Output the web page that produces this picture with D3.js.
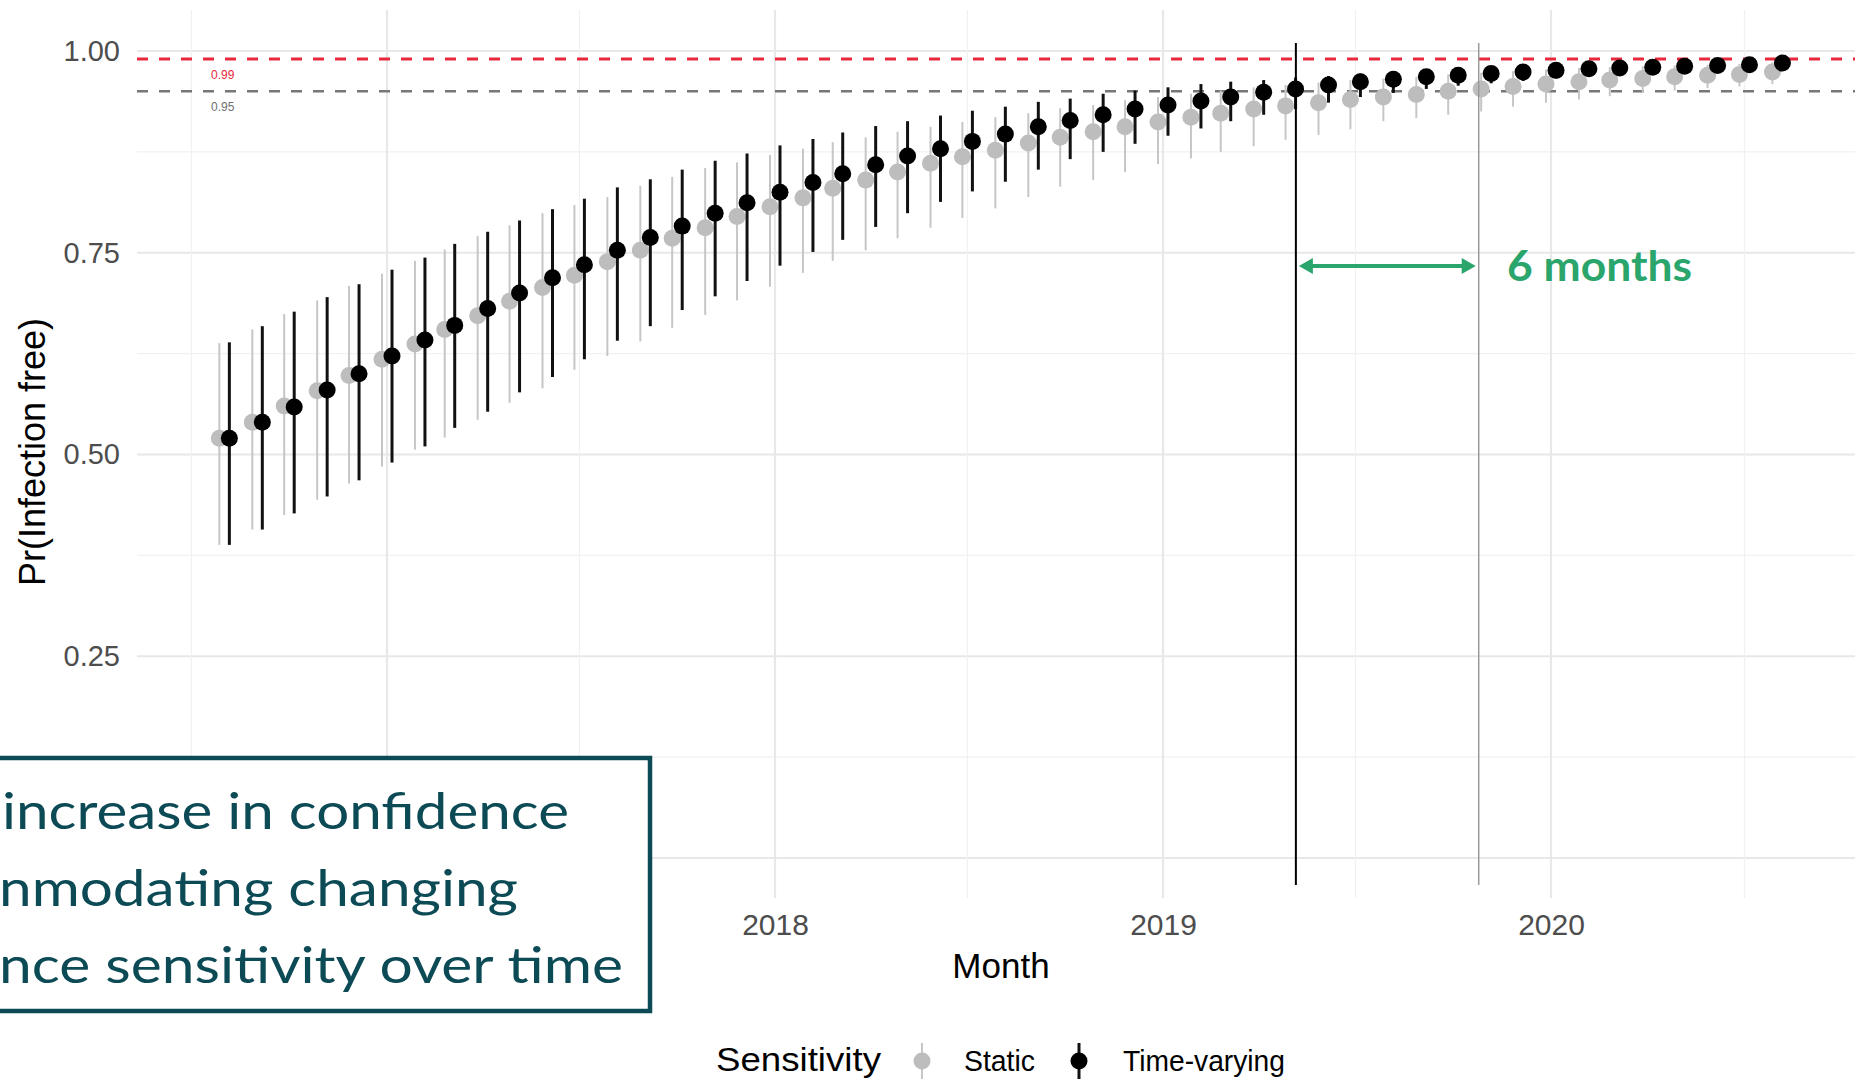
<!DOCTYPE html>
<html lang="en">
<head>
<meta charset="UTF-8">
<title>Pr(Infection free) by month</title>
<style>
  body { margin: 0; background: #ffffff; }
  svg { display: block; font-family: "Liberation Sans", Arial, sans-serif; }
</style>
<script src="https://d3js.org/d3.v7.min.js"></script>
</head>
<body>
<svg width="1855" height="1081"></svg>
<script>
// monthly estimates, Aug 2016 - Aug 2020
const months = [
  "2016-08", "2016-09", "2016-10", "2016-11", "2016-12",
  "2017-01", "2017-02", "2017-03", "2017-04", "2017-05", "2017-06",
  "2017-07", "2017-08", "2017-09", "2017-10", "2017-11", "2017-12",
  "2018-01", "2018-02", "2018-03", "2018-04", "2018-05", "2018-06",
  "2018-07", "2018-08", "2018-09", "2018-10", "2018-11", "2018-12",
  "2019-01", "2019-02", "2019-03", "2019-04", "2019-05", "2019-06",
  "2019-07", "2019-08", "2019-09", "2019-10", "2019-11", "2019-12",
  "2020-01", "2020-02", "2020-03", "2020-04", "2020-05", "2020-06",
  "2020-07", "2020-08"
];

const staticMean = [
  0.520, 0.540, 0.560, 0.579, 0.598, 0.618, 0.637, 0.655, 0.672, 0.690,
  0.707, 0.722, 0.739, 0.753, 0.768, 0.781, 0.795, 0.807, 0.818, 0.830,
  0.840, 0.850, 0.861, 0.869, 0.877, 0.886, 0.893, 0.900, 0.906, 0.912,
  0.918, 0.923, 0.928, 0.932, 0.936, 0.940, 0.943, 0.946, 0.950, 0.953,
  0.956, 0.959, 0.962, 0.964, 0.966, 0.968, 0.970, 0.971, 0.974
];
const staticLow = [
  0.388, 0.407, 0.425, 0.444, 0.464, 0.485, 0.506, 0.521, 0.543, 0.564,
  0.582, 0.605, 0.622, 0.640, 0.657, 0.673, 0.691, 0.708, 0.725, 0.740,
  0.753, 0.768, 0.781, 0.793, 0.805, 0.819, 0.832, 0.840, 0.850, 0.860,
  0.867, 0.875, 0.882, 0.890, 0.896, 0.903, 0.913, 0.917, 0.921, 0.925,
  0.931, 0.936, 0.940, 0.944, 0.948, 0.951, 0.954, 0.956, 0.959
];
const staticHigh = [
  0.638, 0.655, 0.674, 0.691, 0.709, 0.724, 0.740, 0.754, 0.771, 0.784,
  0.799, 0.809, 0.819, 0.833, 0.844, 0.855, 0.862, 0.871, 0.879, 0.887,
  0.893, 0.900, 0.906, 0.912, 0.918, 0.923, 0.929, 0.933, 0.939, 0.943,
  0.947, 0.951, 0.955, 0.958, 0.961, 0.964, 0.966, 0.968, 0.971, 0.973,
  0.975, 0.977, 0.979, 0.980, 0.981, 0.982, 0.983, 0.984, 0.986
];

const tvMean = [
  0.520, 0.540, 0.559, 0.580, 0.600, 0.622, 0.642, 0.660, 0.681, 0.700,
  0.719, 0.735, 0.753, 0.769, 0.783, 0.799, 0.812, 0.825, 0.837, 0.848,
  0.859, 0.870, 0.879, 0.888, 0.897, 0.906, 0.914, 0.921, 0.928, 0.933,
  0.938, 0.943, 0.949, 0.953, 0.958, 0.962, 0.965, 0.968, 0.970, 0.972,
  0.974, 0.976, 0.978, 0.979, 0.980, 0.981, 0.982, 0.983, 0.985
];
const tvLow = [
  0.388, 0.407, 0.427, 0.448, 0.468, 0.490, 0.510, 0.533, 0.553, 0.577,
  0.596, 0.618, 0.641, 0.659, 0.679, 0.696, 0.715, 0.734, 0.751, 0.766,
  0.782, 0.799, 0.813, 0.826, 0.838, 0.853, 0.866, 0.875, 0.885, 0.895,
  0.904, 0.913, 0.921, 0.928, 0.936, 0.943, 0.948, 0.953, 0.957, 0.960,
  0.963, 0.966, 0.968, 0.970, 0.972, 0.973, 0.975, 0.976, 0.978
];
const tvHigh = [
  0.639, 0.659, 0.677, 0.695, 0.711, 0.729, 0.744, 0.761, 0.776, 0.790,
  0.804, 0.817, 0.831, 0.841, 0.853, 0.864, 0.873, 0.883, 0.891, 0.899,
  0.907, 0.913, 0.920, 0.926, 0.931, 0.937, 0.941, 0.947, 0.951, 0.955,
  0.959, 0.962, 0.964, 0.967, 0.969, 0.972, 0.974, 0.976, 0.978, 0.980,
  0.981, 0.983, 0.984, 0.985, 0.986, 0.987, 0.988, 0.988, 0.989
];

const yGrid = [0, 0.25, 0.5, 0.75, 1];
const yMinor = [0.125, 0.375, 0.625, 0.875];
const yLabels = [0.25, 0.5, 0.75, 1];          // 0.00 sits under the callout box
const xLabels = ["2018", "2019", "2020"];       // 2017 sits under the callout box
const thresholds = [0.99, 0.95];
const thresholdLabels = ["0.99", "0.95"];
const seriesNames = ["Static", "Time-varying"];
// slide overlay: lines where each series passes 0.95
const markDates = ["2019-05-06", "2019-10-25"];
const boxLines = ["increase in confidence", "nmodating changing", "nce sensitivity over time"];

const svg = d3.select("svg");
const parseMonth = d3.timeParse("%Y-%m");
const parseDay = d3.timeParse("%Y-%m-%d");
const parseYear = d3.timeParse("%Y");

const x = d3.scaleTime()
    .domain([new Date(2018, 0, 1), new Date(2020, 0, 1)])
    .range([775, 1551]);
const y = d3.scaleLinear().domain([0, 1]).range([858, 51]);
const panel = { left: 137, right: 1855, top: 10, bottom: 898 };

const grid = svg.append("g");
// horizontal gridlines
grid.selectAll(".hmin").data(yMinor).join("line")
    .attr("x1", panel.left).attr("x2", panel.right)
    .attr("y1", d => y(d)).attr("y2", d => y(d))
    .attr("stroke", "#f1f1f1").attr("stroke-width", 1.2);
grid.selectAll(".hmaj").data(yGrid).join("line")
    .attr("x1", panel.left).attr("x2", panel.right)
    .attr("y1", d => y(d)).attr("y2", d => y(d))
    .attr("stroke", "#e8e8e8").attr("stroke-width", 2.2);

// vertical gridlines
const t0 = x.invert(panel.left), t1 = x.invert(panel.right);
const yearTicks = d3.timeYear.range(t0, t1);
const halfTicks = d3.timeMonth.range(t0, t1).filter(d => d.getMonth() === 6);
grid.selectAll(".vmin").data(halfTicks).join("line")
    .attr("x1", d => x(d)).attr("x2", d => x(d))
    .attr("y1", panel.top).attr("y2", panel.bottom)
    .attr("stroke", "#f1f1f1").attr("stroke-width", 1.2);
grid.selectAll(".vmaj").data(yearTicks).join("line")
    .attr("x1", d => x(d)).attr("x2", d => x(d))
    .attr("y1", panel.top).attr("y2", panel.bottom)
    .attr("stroke", "#e8e8e8").attr("stroke-width", 2.2);

// threshold lines
const thrColors = ["#e8283c", "#777777"];
svg.selectAll(".thr").data(thresholds).join("line")
    .attr("x1", panel.left).attr("x2", panel.right)
    .attr("y1", d => y(d)).attr("y2", d => y(d))
    .attr("stroke", (d, i) => thrColors[i])
    .attr("stroke-width", (d, i) => i === 0 ? 3 : 2.5)
    .attr("stroke-dasharray", "11 11");
svg.selectAll(".thrLab").data(thresholds).join("text")
    .attr("x", 211).attr("y", d => y(d) + 20)
    .attr("font-size", 12)
    .attr("fill", (d, i) => i === 0 ? "#e8283c" : "#707070")
    .text((d, i) => thresholdLabels[i]);

// point ranges
const series = [
  { name: seriesNames[0], mean: staticMean, low: staticLow, high: staticHigh,
    dx: -5, dot: "#bdbdbd", bar: "#c6c6c6", bw: 2 },
  { name: seriesNames[1], mean: tvMean, low: tvLow, high: tvHigh,
    dx: 5, dot: "#000000", bar: "#111111", bw: 3 }
];
series.forEach(s => {
  const rows = months.map((m, i) => ({ date: parseMonth(m), mean: s.mean[i], low: s.low[i], high: s.high[i] }));
  const g = svg.append("g");
  g.selectAll("line").data(rows).join("line")
      .attr("x1", d => x(d.date) + s.dx).attr("x2", d => x(d.date) + s.dx)
      .attr("y1", d => y(d.low)).attr("y2", d => y(d.high))
      .attr("stroke", s.bar).attr("stroke-width", s.bw);
  g.selectAll("circle").data(rows).join("circle")
      .attr("cx", d => x(d.date) + s.dx).attr("cy", d => y(d.mean))
      .attr("r", 8.5).attr("fill", s.dot);
});

// overlay: 6 month gap
const marks = markDates.map(parseDay);
svg.selectAll(".mark").data(marks).join("line")
    .attr("x1", d => x(d)).attr("x2", d => x(d))
    .attr("y1", 43).attr("y2", 885)
    .attr("stroke", (d, i) => i === 0 ? "#000000" : "#9a9a9a")
    .attr("stroke-width", (d, i) => i === 0 ? 2 : 1.5);

const green = "#2aa56b";
const ax1 = x(marks[0]) + 3, ax2 = x(marks[1]) - 3, ay = 266;
svg.append("line")
    .attr("x1", ax1 + 10).attr("x2", ax2 - 10)
    .attr("y1", ay).attr("y2", ay)
    .attr("stroke", green).attr("stroke-width", 4);
svg.append("path")
    .attr("d", `M${ax1},${ay} l14,-8 l0,16 Z M${ax2},${ay} l-14,-8 l0,16 Z`)
    .attr("fill", green);
svg.append("text")
    .attr("x", 1507).attr("y", 281)
    .attr("font-family", "Lato, 'Open Sans', sans-serif")
    .attr("font-weight", 700).attr("font-size", 42)
    .attr("textLength", 185).attr("lengthAdjust", "spacingAndGlyphs")
    .attr("fill", green)
    .text("6 months");

// axes
const xAxis = svg.append("g")
    .attr("transform", `translate(0,${panel.bottom})`)
    .call(d3.axisBottom(x).tickValues(xLabels.map(parseYear))
      .tickFormat(d3.timeFormat("%Y")).tickSize(0).tickPadding(16));
xAxis.select(".domain").remove();
xAxis.selectAll("text").attr("font-size", 30).attr("fill", "#4d4d4d")
    .attr("font-family", "'Liberation Sans', Arial, sans-serif");

const yAxis = svg.append("g")
    .attr("transform", `translate(${panel.left},0)`)
    .call(d3.axisLeft(y).tickValues(yLabels).tickFormat(d3.format(".2f")).tickSize(0).tickPadding(17));
yAxis.select(".domain").remove();
yAxis.selectAll("text").attr("font-size", 29).attr("fill", "#4d4d4d")
    .attr("font-family", "'Liberation Sans', Arial, sans-serif");

svg.append("text")
    .attr("transform", "translate(45,452) rotate(-90)")
    .attr("text-anchor", "middle").attr("font-size", 36).attr("fill", "#000")
    .text("Pr(Infection free)");
svg.append("text")
    .attr("x", 1001).attr("y", 978)
    .attr("text-anchor", "middle").attr("font-size", 35).attr("fill", "#000")
    .text("Month");

// legend
const legend = svg.append("g");
legend.append("text").attr("x", 716).attr("y", 1071)
    .attr("font-size", 34).attr("textLength", 165).attr("lengthAdjust", "spacingAndGlyphs")
    .text("Sensitivity");
const keyX = [922, 1079], labX = [964, 1123], labW = [71, 162];
series.forEach((s, i) => {
  legend.append("line")
      .attr("x1", keyX[i]).attr("x2", keyX[i]).attr("y1", 1043).attr("y2", 1079)
      .attr("stroke", s.bar).attr("stroke-width", s.bw);
  legend.append("circle").attr("cx", keyX[i]).attr("cy", 1061).attr("r", 8.5).attr("fill", s.dot);
  legend.append("text").attr("x", labX[i]).attr("y", 1071)
      .attr("font-size", 30).attr("textLength", labW[i]).attr("lengthAdjust", "spacingAndGlyphs")
      .text(s.name);
});

// callout box (slide overlay, cut at left edge)
const teal = "#0c4a55";
svg.append("rect")
    .attr("x", -10).attr("y", 758).attr("width", 660).attr("height", 253)
    .attr("fill", "#ffffff").attr("stroke", teal).attr("stroke-width", 4.5);
const lineEnds = [569, 518, 623];
const lineStarts = [2, -1, -1];
svg.selectAll(".boxtxt").data(boxLines).join("text")
    .attr("x", (d, i) => lineStarts[i])
    .attr("y", (d, i) => 829 + i * 77)
    .attr("font-family", "Lato, 'Open Sans', sans-serif")
    .attr("font-size", 50)
    .attr("textLength", (d, i) => lineEnds[i] - lineStarts[i])
    .attr("lengthAdjust", "spacingAndGlyphs")
    .attr("fill", teal)
    .text(d => d);
</script>
</body>
</html>
